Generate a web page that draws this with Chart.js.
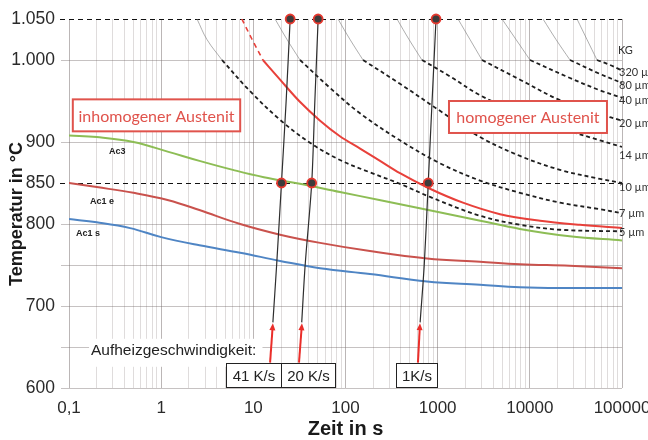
<!DOCTYPE html>
<html>
<head>
<meta charset="utf-8">
<script src="https://cdn.jsdelivr.net/npm/chart.js@4.4.0/dist/chart.umd.min.js"></script>
<style>
  html, body { margin: 0; padding: 0; background: #fff; }
  #wrap { width: 648px; height: 440px; }
</style>
</head>
<body>
<div id="wrap"><canvas id="chart" width="648" height="440"></canvas></div>
<script>
// time in s (log axis), temperature in °C

// phase boundaries
const ac3Time = [0.1, 0.2, 0.5, 1.2, 2.6, 6, 13, 32, 87, 240, 980, 2900, 7800, 27000, 100000];
const ac3Temp = [908, 906, 900, 888, 877, 866, 857, 849, 839, 829, 815, 804, 794, 785, 780];
const ac1eTime = [0.1, 0.2, 0.5, 1.2, 2.6, 7.2, 19.5, 53, 184, 766, 2880, 7800, 27000, 100000];
const ac1eTemp = [850, 845, 838, 829, 817, 800, 787, 777, 767, 758, 754, 751, 749, 746];
const ac1sTime = [0.1, 0.2, 0.46, 1, 2.6, 7.2, 19.5, 53, 184, 766, 2880, 7800, 27000, 100000];
const ac1sTemp = [806, 802, 795, 784, 774, 765, 755, 746, 739, 730, 726, 723, 722, 722];

// homogeneous austenite limit
const homDashTime = [7.5, 9.7, 12.7];
const homDashTemp = [1050, 1025, 1000];
const homTime = [12.7, 19.5, 32, 53, 87, 144, 237, 390, 826, 1880, 4750, 12900, 35000, 100000];
const homTemp = [1000, 976, 949, 926, 907, 892, 877, 862, 843, 826, 812, 804, 799, 795];

// grain size lines (KG)
const kgLabels = ['5 µm', '7 µm', '10 µm', '14 µm', '20 µm', '40 µm', '80 µm', '320 µm'];
const kgLabelTemp = [790, 813, 845, 884, 923, 951, 969.5, 985];
const kgThinTime = [
  [2.45, 3.14, 4.57], [17.2, 23.2, 32.1], [82.9, 112, 155], [362, 489, 676],
  [1662, 2243, 3027], [4990, 7080, 10040], [13900, 19230, 27280], [32500, 41700, 53560]
];
const kgThinTemp = [1050, 1025, 1000];
const kgTime = [
  [4.57, 9.2, 19.5, 41.2, 87.2, 184, 390, 826, 2880, 7820, 21250, 100000],
  [32.1, 67.9, 143.6, 390, 1060, 2880, 7820, 21250, 57700, 100000],
  [155, 390, 1060, 2880, 7820, 21250, 57700, 100000],
  [676, 1361, 2880, 7820, 21250, 57700, 100000],
  [3027, 7820, 21250, 57700, 100000],
  [10040, 27280, 57700, 100000],
  [27280, 57700, 100000],
  [53560, 74100, 100000]
];
const kgTemp = [
  [1000, 962, 927, 899, 878, 863, 849, 833, 810, 799, 793, 791],
  [1000, 966, 935, 902, 874, 853, 838, 826, 818, 813],
  [1000, 971, 938, 906, 883, 866, 855, 850],
  [1000, 980, 957, 935, 917, 902, 894],
  [1000, 976, 951, 934, 926],
  [1000, 978, 963, 954],
  [1000, 983, 972],
  [1000, 994, 987]
];

// heating curves
const rateLabels = ['41 K/s', '20 K/s', '1K/s'];
const heatTemp = [680, 750, 850, 950, 1050];
const heatTime = [
  [16.3, 17.9, 20.2, 22.7, 25.1],
  [33.5, 36.5, 43, 46.5, 50.5],
  [645, 715, 790, 870, 960]
];
const dotTime = [20.2, 25.1, 43, 50.5, 790, 960];
const dotTemp = [850, 1050, 850, 1050, 850, 1050];

// axes
const yTickValues = [600, 650, 700, 750, 800, 850, 900, 950, 1000, 1050];
const yTickLabels = ['600', '', '700', '', '800', '850', '900', '', '1.000', '1.050'];
const xMajorValues = [0.1, 1, 10, 100, 1000, 10000, 100000];
const xMajorLabels = ['0,1', '1', '10', '100', '1000', '10000', '100000'];

const xTicks = [];
for (let e = -1; e <= 5; e++) {
  for (let m = 1; m <= 9; m++) {
    const v = +(m * Math.pow(10, e)).toPrecision(3);
    if (v <= 100000) xTicks.push(v);
  }
}

const pts = (times, temps) => times.map((t, i) => ({ x: t, y: temps[i] }));

const datasets = [];
datasets.push({
  data: pts(dotTime, dotTemp), showLine: false, pointRadius: 4.5, clip: false,
  pointBackgroundColor: '#3c3c3c', pointBorderColor: '#e6392f', pointBorderWidth: 1.8, order: 0
});
heatTime.forEach(t => datasets.push({
  data: pts(t, heatTemp), borderColor: '#2e2e2e', borderWidth: 1.2, pointRadius: 0, tension: 0.3, order: 1
}));
kgTime.forEach((t, i) => {
  datasets.push({
    data: pts(t, kgTemp[i]), borderColor: '#1e1e1e', borderWidth: 1.8, borderDash: [4, 3],
    pointRadius: 0, tension: 0.35, order: 2
  });
  datasets.push({
    data: pts(kgThinTime[i], kgThinTemp), borderColor: '#777', borderWidth: 0.6,
    pointRadius: 0, tension: 0.4, order: 2
  });
});
datasets.push({ data: pts(homDashTime, homDashTemp), borderColor: '#e8403a', borderWidth: 1.6, borderDash: [5, 4], pointRadius: 0, order: 3 });
datasets.push({ data: pts(homTime, homTemp), borderColor: '#e8403a', borderWidth: 2, pointRadius: 0, cubicInterpolationMode: 'monotone', order: 3 });
datasets.push({ data: pts(ac3Time, ac3Temp), borderColor: '#8dbd55', borderWidth: 2, pointRadius: 0, tension: 0.4, order: 4 });
datasets.push({ data: pts(ac1eTime, ac1eTemp), borderColor: '#c9524d', borderWidth: 2, pointRadius: 0, tension: 0.4, order: 4 });
datasets.push({ data: pts(ac1sTime, ac1sTemp), borderColor: '#4f85c4', borderWidth: 2, pointRadius: 0, tension: 0.4, order: 4 });

const SANS = '"Liberation Sans", Arial, sans-serif';
const BOXFONT = 'Lato, "Open Sans", sans-serif';

// dashed 850/1050 lines behind the marks
const refLines = {
  id: 'refLines',
  beforeDatasetsDraw(chart) {
    const { ctx, chartArea, scales } = chart;
    ctx.save();
    ctx.strokeStyle = '#111';
    ctx.lineWidth = 1;
    ctx.setLineDash([5, 4]);
    [850, 1050].forEach(v => {
      const y = Math.round(scales.y.getPixelForValue(v)) + 0.5;
      ctx.beginPath();
      ctx.moveTo(chartArea.left - 9, y);
      ctx.lineTo(chartArea.right, y);
      ctx.stroke();
    });
    ctx.restore();
  }
};

const notes = {
  id: 'notes',
  afterDatasetsDraw(chart) {
    const { ctx, chartArea, scales } = chart;
    const X = v => scales.x.getPixelForValue(v);
    const Y = v => scales.y.getPixelForValue(v);
    ctx.save();

    // red boxes
    const redBox = (t0, t1, T0, T1, text) => {
      const x0 = X(t0), x1 = X(t1), y0 = Y(T0), y1 = Y(T1);
      ctx.fillStyle = '#fff';
      ctx.fillRect(x0, y0, x1 - x0, y1 - y0);
      ctx.strokeStyle = '#e0534c';
      ctx.lineWidth = 2;
      ctx.strokeRect(x0, y0, x1 - x0, y1 - y0);
      ctx.fillStyle = '#e0534c';
      ctx.font = '16px ' + BOXFONT;
      ctx.textAlign = 'center';
      ctx.textBaseline = 'middle';
      ctx.fillText(text, (x0 + x1) / 2, (y0 + y1) / 2 + 1);
    };
    redBox(0.11, 7.2, 952, 913, 'inhomogener Austenit');
    redBox(1327, 68700, 950, 911, 'homogener Austenit');

    // curve names
    ctx.fillStyle = '#222';
    ctx.font = 'bold 9px ' + SANS;
    ctx.textAlign = 'left';
    ctx.textBaseline = 'middle';
    ctx.fillText('Ac3', X(0.272), Y(888));
    ctx.fillText('Ac1 e', X(0.169), Y(827));
    ctx.fillText('Ac1 s', X(0.119), Y(788));

    // grain size labels
    ctx.font = '11px ' + BOXFONT;
    ctx.fillStyle = '#333';
    ctx.fillText('KG', chartArea.right - 4, Y(1012));
    kgLabels.forEach((l, i) => ctx.fillText(l, chartArea.right - 3, Y(kgLabelTemp[i])));

    // heating rate label
    ctx.font = '15.5px ' + SANS;
    const title = 'Aufheizgeschwindigkeit:';
    const tw = ctx.measureText(title).width;
    ctx.fillStyle = '#fff';
    ctx.fillRect(X(0.165), Y(660), tw + 8, 28);
    ctx.fillStyle = '#222';
    ctx.fillText(title, X(0.173), Y(645));

    // rate boxes
    const boxFrom = [5.05, 20, 353];
    const boxTo = [20, 77, 983];
    rateLabels.forEach((l, i) => {
      const x0 = Math.round(X(boxFrom[i])) + 0.5, x1 = Math.round(X(boxTo[i])) + 0.5;
      const y0 = Math.round(Y(631)) + 0.5, y1 = Math.round(Y(600)) - 0.5;
      ctx.fillStyle = '#fff';
      ctx.fillRect(x0, y0, x1 - x0, y1 - y0);
      ctx.strokeStyle = '#222';
      ctx.lineWidth = 1;
      ctx.strokeRect(x0, y0, x1 - x0, y1 - y0);
      ctx.fillStyle = '#222';
      ctx.font = '15px ' + SANS;
      ctx.textAlign = 'center';
      ctx.fillText(l, (x0 + x1) / 2, (y0 + y1) / 2 + 1);
    });

    // arrows
    const arrowBase = [15.2, 31.3, 611];
    const arrowTip = [16.3, 33.7, 643];
    ctx.strokeStyle = '#ea2e2a';
    ctx.fillStyle = '#ea2e2a';
    ctx.lineWidth = 2;
    arrowBase.forEach((b, i) => {
      const xb = X(b), yb = Y(631), xt = X(arrowTip[i]), yt = Y(679);
      const a = Math.atan2(yt - yb, xt - xb);
      ctx.beginPath();
      ctx.moveTo(xb, yb);
      ctx.lineTo(xt - 5 * Math.cos(a), yt - 5 * Math.sin(a));
      ctx.stroke();
      ctx.beginPath();
      ctx.moveTo(xt, yt);
      ctx.lineTo(xt - 7 * Math.cos(a) + 3 * Math.sin(a), yt - 7 * Math.sin(a) - 3 * Math.cos(a));
      ctx.lineTo(xt - 7 * Math.cos(a) - 3 * Math.sin(a), yt - 7 * Math.sin(a) + 3 * Math.cos(a));
      ctx.closePath();
      ctx.fill();
    });

    // y axis title
    ctx.save();
    ctx.translate(17, 214);
    ctx.rotate(-Math.PI / 2);
    ctx.font = 'bold 18px ' + SANS;
    ctx.fillStyle = '#1a1a1a';
    ctx.textAlign = 'center';
    ctx.textBaseline = 'middle';
    ctx.fillText('Temperatur in °C', 0, 0);
    ctx.restore();

    ctx.restore();
  }
};

new Chart(document.getElementById('chart'), {
  type: 'line',
  data: { datasets },
  options: {
    responsive: false,
    animation: false,
    layout: { padding: { top: 19, right: 26, left: 0, bottom: 0 } },
    plugins: { legend: { display: false }, tooltip: { enabled: false } },
    scales: {
      x: {
        type: 'logarithmic',
        min: 0.1,
        max: 100000,
        afterBuildTicks: s => { s.ticks = xTicks.map(v => ({ value: v })); },
        afterFit: s => { s.height = 52; s.paddingLeft = 0; s.paddingRight = 0; },
        border: { display: false },
        grid: {
          drawTicks: false,
          lineWidth: 1,
          color: c => xMajorValues.includes(c.tick.value) ? 'rgba(120,110,110,0.5)' : 'rgba(140,130,130,0.28)'
        },
        ticks: {
          autoSkip: false,
          maxRotation: 0,
          padding: 10,
          color: '#2a2a2a',
          font: { family: SANS, size: 17 },
          callback: v => {
            const i = xMajorValues.indexOf(v);
            return i >= 0 ? xMajorLabels[i] : '';
          }
        },
        title: {
          display: true,
          text: 'Zeit in s',
          color: '#1a1a1a',
          font: { family: SANS, size: 20, weight: 'bold' },
          padding: { top: 0, bottom: -1 }
        }
      },
      y: {
        min: 600,
        max: 1050,
        afterBuildTicks: s => { s.ticks = yTickValues.map(v => ({ value: v })); },
        afterFit: s => { s.width = 69; s.paddingTop = 0; s.paddingBottom = 0; },
        border: { display: false },
        grid: {
          tickLength: 8,
          color: c => {
            const v = c.tick.value;
            if (v === 850 || v === 1050 || v === 950) return 'rgba(0,0,0,0)';
            return 'rgba(120,110,110,0.42)';
          }
        },
        ticks: {
          autoSkip: false,
          padding: 6,
          color: '#2a2a2a',
          font: { family: SANS, size: 17.5 },
          callback: (v, i) => yTickLabels[yTickValues.indexOf(v)]
        }
      }
    }
  },
  plugins: [refLines, notes]
});
</script>
</body>
</html>
